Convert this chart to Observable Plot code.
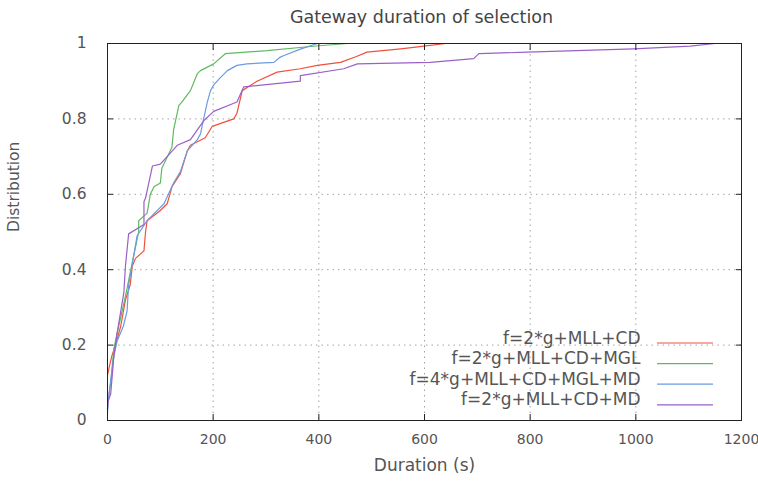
<!DOCTYPE html>
<html>
<head>
<meta charset="utf-8">
<script src="https://cdn.jsdelivr.net/npm/d3@7"></script>
<script src="https://cdn.jsdelivr.net/npm/@observablehq/plot@0.6"></script>
<style>
  html, body { margin: 0; padding: 0; background: #fff; }
  svg { font-family: "DejaVu Sans", sans-serif; }
</style>
</head>
<body>
<div id="chart"></div>
<script>
const title = "Gateway duration of selection";
const xLabel = "Duration (s)";
const yLabel = "Distribution";
const xTicks = [0, 200, 400, 600, 800, 1000, 1200];
const yTicks = [0, 0.2, 0.4, 0.6, 0.8, 1];
const seriesNames = ["f=2*g+MLL+CD", "f=2*g+MLL+CD+MGL", "f=4*g+MLL+CD+MGL+MD", "f=2*g+MLL+CD+MD"];
const seriesColors = ["#f0503c", "#5fba5f", "#6a9be0", "#9a60c8"];

const red = [[0,0.12],[3,0.14],[8,0.17],[15,0.20],[25,0.25],[34,0.32],[43,0.36],[47,0.41],[53,0.43],[69,0.45],[72,0.50],[75,0.53],[100,0.557],[113,0.575],[116,0.59],[122,0.62],[138,0.655],[151,0.715],[157,0.73],[185,0.75],[198,0.78],[239,0.80],[245,0.815],[255,0.875],[283,0.90],[321,0.924],[365,0.933],[397,0.942],[441,0.95],[470,0.965],[491,0.977],[555,0.986],[599,0.993],[640,1.0]];
const green = [[0,0.03],[1,0.05],[6,0.10],[12,0.19],[18,0.23],[34,0.33],[47,0.42],[59,0.50],[59,0.53],[75,0.55],[81,0.60],[88,0.62],[100,0.63],[103,0.67],[122,0.725],[125,0.77],[135,0.835],[141,0.845],[157,0.875],[170,0.92],[176,0.928],[201,0.946],[223,0.973],[302,0.981],[384,0.992],[454,1.0]];
const blue = [[0,0.02],[1,0.05],[12,0.17],[18,0.21],[30,0.25],[37,0.29],[40,0.36],[50,0.44],[56,0.49],[75,0.53],[107,0.575],[125,0.63],[138,0.66],[151,0.715],[170,0.745],[176,0.76],[182,0.80],[189,0.845],[195,0.875],[201,0.89],[214,0.91],[227,0.928],[245,0.942],[264,0.946],[315,0.95],[327,0.964],[334,0.968],[365,0.985],[397,1.0]];
const purple = [[0,0.03],[1,0.05],[6,0.07],[12,0.17],[18,0.23],[31,0.34],[34,0.41],[40,0.495],[69,0.52],[69,0.58],[72,0.59],[85,0.675],[100,0.68],[132,0.73],[157,0.745],[182,0.795],[201,0.82],[245,0.845],[258,0.885],[365,0.90],[365,0.915],[447,0.933],[473,0.946],[611,0.95],[693,0.96],[703,0.973],[794,0.977],[996,0.986],[1103,0.993],[1150,1.0]];

const allSeries = [red, green, blue, purple];
const rows = allSeries.flatMap((pts, i) => pts.map(([x, y]) => ({x, y, s: seriesNames[i]})));

const W = 758, H = 481;
const mL = 107, mR = 17, mT = 43, mB = 61;
const fmt = d => String(d);
const noLabel = () => "";
const FS = 17;

const legendMarks = seriesNames.map((name, i) =>
  Plot.text([name], {frameAnchor: "bottom-right", textAnchor: "end", dx: -101, dy: -77 + i * 20.6, fontSize: FS, fill: "#555"})
);

const plot = Plot.plot({
  width: W, height: H,
  marginLeft: mL, marginRight: mR, marginTop: mT, marginBottom: mB,
  style: {fontFamily: "DejaVu Sans, sans-serif", fontSize: "15px", color: "#555", background: "#fff"},
  x: {domain: [0, 1200], ticks: xTicks, label: null},
  y: {domain: [0, 1], ticks: yTicks, label: null},
  color: {domain: seriesNames, range: seriesColors},
  marks: [
    Plot.gridX(xTicks.slice(1, -1), {stroke: "#999", strokeOpacity: 0.9, strokeDasharray: "1.5,4", strokeWidth: 1}),
    Plot.gridY(yTicks.slice(1, -1), {stroke: "#999", strokeOpacity: 0.9, strokeDasharray: "1.5,4", strokeWidth: 1}),
    Plot.line(rows, {x: "x", y: "y", z: "s", stroke: "s", strokeWidth: 1.2, curve: "linear"}),
    Plot.frame({stroke: "#222", strokeWidth: 1}),
    Plot.axisX({ticks: xTicks, anchor: "bottom", tickSize: 0, tickPadding: 14, tickFormat: fmt, fill: "#555", fontSize: 14}),
    Plot.axisX({ticks: xTicks, anchor: "bottom", tickSize: -6, tickFormat: noLabel, stroke: "#222"}),
    Plot.axisX({ticks: xTicks, anchor: "top", tickSize: -6, tickFormat: noLabel, stroke: "#222"}),
    Plot.axisY({ticks: yTicks, anchor: "left", tickSize: -6, tickFormat: noLabel, stroke: "#222"}),
    Plot.axisY({ticks: yTicks, anchor: "right", tickSize: -6, tickFormat: noLabel, stroke: "#222"}),
    Plot.axisY({ticks: yTicks, anchor: "left", tickSize: 0, tickPadding: 21, tickFormat: fmt, fill: "#555", fontSize: 15.5}),
    Plot.text([title], {frameAnchor: "top", dy: -33, dx: -3, fontSize: 17.5, fill: "#444"}),
    Plot.text([xLabel], {frameAnchor: "bottom", dy: 50, fontSize: FS, fill: "#555"}),
    Plot.text([yLabel], {frameAnchor: "left", dx: -93, rotate: -90, fontSize: 15.5, fill: "#555"}),
    ...legendMarks
  ]
});

// legend sample lines, coloured through the plot's colour scale
const svg = d3.select(plot);
const colorScale = plot.scale("color");
const xs = plot.scale("x"), ys = plot.scale("y");
const right = xs.range[1], bottom = ys.range[0];
seriesNames.forEach((name, i) => {
  const yy = bottom - 77 + i * 20.6;
  svg.append("line")
    .attr("x1", right - 84).attr("x2", right - 28)
    .attr("y1", yy).attr("y2", yy)
    .attr("stroke", colorScale.apply(name)).attr("stroke-width", 1.2);
});
document.getElementById("chart").appendChild(plot);
</script>
</body>
</html>
